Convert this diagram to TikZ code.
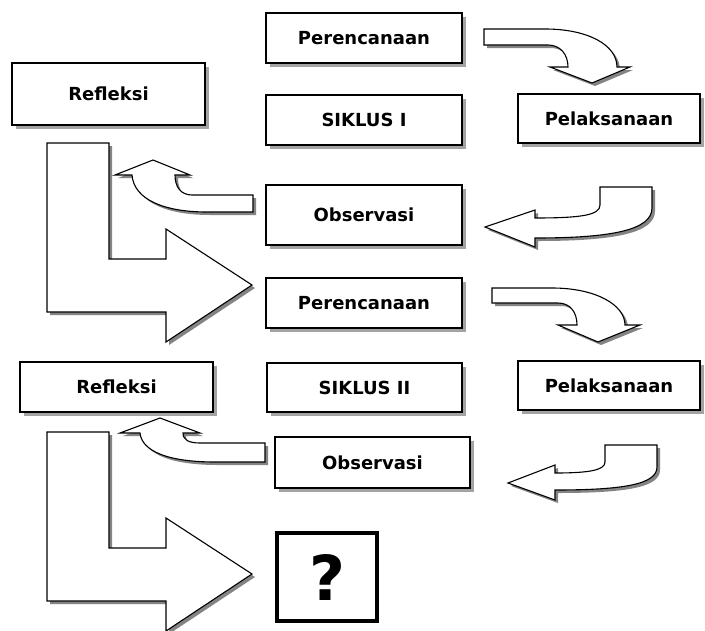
\documentclass[tikz,border=0pt]{standalone}
\usepackage{fontspec}
\setmainfont{DejaVu Sans}
\usetikzlibrary{shadows}
\tikzset{
  box/.style={draw=black, line width=1.6pt, fill=white, inner sep=0pt,
    font=\bfseries\fontsize{18}{20}\selectfont,
    drop shadow={shadow xshift=4pt, shadow yshift=-4pt, fill=black!45, opacity=0.8}},
  blockarrow/.style={draw=black, line width=1.1pt, fill=white, line join=miter,
    drop shadow={shadow xshift=3pt, shadow yshift=-3pt, fill=black!60, opacity=0.8}},
  qbox/.style={draw=black, line width=4pt, fill=white, inner sep=0pt,
    font=\bfseries\fontsize{62}{64}\selectfont}
}
\begin{document}
\begin{tikzpicture}[x=1pt,y=-1pt]
\useasboundingbox (0,0) rectangle (705,630);
\fill[white] (0,0) rectangle (705,630);

% big L arrows
\path[blockarrow] (47,143) -- (109,143) -- (109,259) -- (166,259) -- (166,229) -- (252,285) -- (166,342) -- (166,312) -- (47,312) -- cycle;
\path[blockarrow] (47,432) -- (109,432) -- (109,548) -- (166,548) -- (166,518) -- (252,574) -- (166,631) -- (166,601) -- (47,601) -- cycle;

% curved arrow Perencanaan -> Pelaksanaan (cycle 1)
\path[blockarrow] (484,29) -- (545,29) .. controls (588,29) and (617,45) .. (617,67) -- (630,67) -- (592,83) -- (550,67) -- (568,67) .. controls (568,54) and (560,45) .. (548,45) -- (484,45) -- cycle;
% curved arrow Perencanaan -> Pelaksanaan (cycle 2)
\path[blockarrow] (492,288) -- (552,288) .. controls (596,288) and (625,305) .. (625,325) -- (640,325) -- (598,342) -- (558,325) -- (577,325) .. controls (577,312) and (570,303) .. (558,303) -- (492,303) -- cycle;

% arrow Pelaksanaan -> Observasi (cycle 1)
\path[blockarrow] (600,187) -- (652,187) -- (652,208) .. controls (652,230) and (612,238) .. (535,238) -- (535,247) -- (485,227) -- (535,210) -- (535,218) .. controls (582,218) and (600,215) .. (600,205) -- cycle;
% arrow Pelaksanaan -> Observasi (cycle 2)
\path[blockarrow] (605,445) -- (657,445) -- (657,467) .. controls (657,484) and (625,490) .. (555,490) -- (555,500) -- (508,483) -- (555,465) -- (555,473) .. controls (590,473) and (605,470) .. (605,462) -- cycle;

% arrow Observasi -> Refleksi (cycle 1)
\path[blockarrow] (253,195) -- (192,195) .. controls (181,195) and (175,187) .. (175,175) -- (190,175) -- (153,160) -- (115,175) -- (132,175) .. controls (134,200) and (165,212) .. (207,212) -- (253,212) -- cycle;
% arrow Observasi -> Refleksi (cycle 2)
\path[blockarrow] (265,443) -- (200,443) .. controls (189,443) and (183,440) .. (183,433) -- (200,433) -- (160,418) -- (120,433) -- (140,433) .. controls (142,452) and (170,462) .. (215,462) -- (265,462) -- cycle;

% boxes
\node[box, minimum width=196pt, minimum height=50pt] (p1) at (364,38) {Perencanaan};
\node[box, minimum width=193pt, minimum height=62pt] (r1) at (108.5,94) {Refleksi};
\node[box, minimum width=196pt, minimum height=50pt] (s1) at (364,120) {SIKLUS I};
\node[box, minimum width=182pt, minimum height=49pt] (l1) at (609,118.5) {Pelaksanaan};
\node[box, minimum width=196pt, minimum height=60pt] (o1) at (364,215) {Observasi};
\node[box, minimum width=196pt, minimum height=50pt] (p2) at (364,303) {Perencanaan};
\node[box, minimum width=193pt, minimum height=50pt] (r2) at (116.5,387) {Refleksi};
\node[box, minimum width=195pt, minimum height=49pt] (s2) at (364.5,387.5) {SIKLUS II};
\node[box, minimum width=182pt, minimum height=49pt] (l2) at (609,385.5) {Pelaksanaan};
\node[box, minimum width=195pt, minimum height=51pt] (o2) at (372.5,462.5) {Observasi};
\node[qbox, minimum width=100pt, minimum height=88pt] (q) at (327,577) {?};
\end{tikzpicture}
\end{document}
